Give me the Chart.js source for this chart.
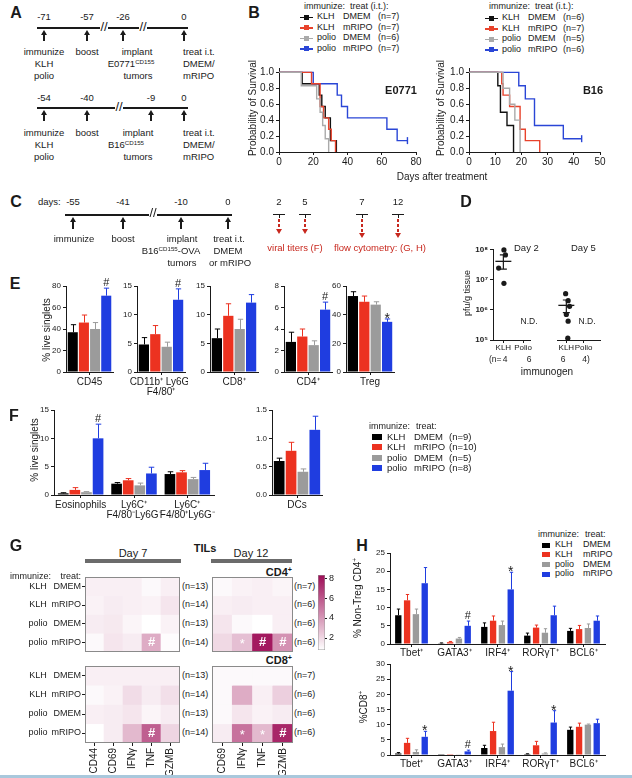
<!DOCTYPE html>
<html>
<head>
<meta charset="utf-8">
<title>Figure</title>
<script src="https://cdn.jsdelivr.net/npm/chart.js@4.4.1/dist/chart.umd.min.js"></script>
<style>
  html, body { margin: 0; padding: 0; background: #fff; }
  body { width: 632px; height: 778px; position: relative; overflow: hidden;
         font-family: "Liberation Sans", Arial, Helvetica, sans-serif; color: #1a1a1a; }
  .t { position: absolute; white-space: nowrap; font-size: 9.5px; line-height: 1.1; }
  .t sup { font-size: 65%; vertical-align: 0; position: relative; top: -0.55em; line-height: 0; }
  .ln { position: absolute; }
  canvas { position: absolute; }
</style>
</head>
<body>
<script>
// ---------- data ----------
const groupImmun = ['KLH', 'KLH', 'polio', 'polio'];
const groupTreat = ['DMEM', 'mRIPO', 'DMEM', 'mRIPO'];
const barColors = ['#000000', '#ec3220', '#9b9b9b', '#1f3de0'];
const survColors = ['#111111', '#e8432c', '#aaaaaa', '#2a46d6'];

// B: survival, days after treatment / fraction alive
const nE0771 = [7, 7, 6, 7];
const nB16 = [6, 7, 5, 6];
const e0771KlhDmemT = [0, 13.5, 23.5, 25, 27, 30, 33.5];
const e0771KlhDmemS = [1, 0.857, 0.714, 0.571, 0.429, 0.143, 0];
const e0771KlhMripoT = [0, 19, 24, 26, 29, 30.5, 33];
const e0771KlhMripoS = [1, 0.857, 0.571, 0.429, 0.286, 0.143, 0];
const e0771PolioDmemT = [0, 13, 22, 24, 25.5, 27, 29];
const e0771PolioDmemS = [1, 0.833, 0.667, 0.5, 0.333, 0.167, 0];
const e0771PolioMripoT = [0, 20, 34, 36.5, 40, 63, 69, 75];
const e0771PolioMripoS = [1, 0.857, 0.714, 0.571, 0.429, 0.286, 0.143, 0.143];
const b16KlhDmemT = [0, 11, 12, 14.5, 17];
const b16KlhDmemS = [1, 0.833, 0.5, 0.333, 0];
const b16KlhMripoT = [0, 12.5, 13, 15.5, 19.5, 21.5, 27];
const b16KlhMripoS = [1, 0.857, 0.714, 0.571, 0.286, 0.143, 0];
const b16PolioDmemT = [0, 13, 15.5, 17.5, 19.5];
const b16PolioDmemS = [1, 0.8, 0.6, 0.4, 0];
const b16PolioMripoT = [0, 19, 21.5, 25, 36, 43];
const b16PolioMripoS = [1, 0.833, 0.667, 0.333, 0.167, 0.167];
const survTicksE0771 = [0, 20, 40, 60, 80];
const survTicksB16 = [0, 10, 20, 30, 40, 50];
const survTicksY = [0, 0.2, 0.4, 0.6, 0.8, 1.0];

// D: viral titers (pfu/g tissue)
const titerCats = ['KLH', 'Polio'];
const titerN = [4, 6, 6, 4];
const titerDay2Klh = [9.5e7, 6.5e7, 2.4e7, 7.5e6];
const titerDay2KlhX = [0.58, 0.66, 0.30, 0.58];
const titerDay2Mean = 4.0e7;
const titerDay2Sem = [2.2e7, 6.5e7];
const titerDay5Klh = [3.4e6, 2.0e6, 1.3e6, 7.0e5, 4.2e5, 1.15e5];
const titerDay5KlhX = [0.46, 0.60, 0.68, 0.50, 0.60, 0.58];
const titerDay5Mean = 1.4e6;
const titerDay5Sem = [8e5, 2.1e6];
const titerTicks = [1e5, 1e6, 1e7, 1e8];

// E: % live singlets
const eCats = ['CD45', ['CD11b⁺ Ly6G⁻', 'F4/80⁺'], 'CD8⁺', 'CD4⁺', 'Treg'];
const eMax = [80, 15, 15, 8, 60];
const eTicks = [[0, 20, 40, 60, 80], [0, 5, 10, 15], [0, 5, 10, 15], [0, 2, 4, 6, 8], [0, 20, 40, 60]];
const eKlhDmem = [37, 4.8, 5.9, 2.8, 53];
const eKlhDmemErr = [7, 1.2, 1.6, 0.9, 3];
const eKlhMripo = [46, 6.6, 9.8, 3.3, 49];
const eKlhMripoErr = [7, 1.5, 2.1, 0.7, 4];
const ePolioDmem = [40, 4.4, 7.5, 2.5, 47];
const ePolioDmemErr = [6, 0.8, 1.7, 0.4, 2];
const ePolioMripo = [71, 12.6, 12.1, 5.8, 35];
const ePolioMripoErr = [7, 1.9, 1.4, 0.7, 2];
const eMarks = ['#', '#', '', '#', '*'];

// F: % live singlets
const nF = [9, 10, 5, 8];
const fCats = ['Eosinophils', ['Ly6C⁺', 'F4/80⁻Ly6G⁻'], ['Ly6C⁺', 'F4/80⁺Ly6G⁻']];
const fTicks = [0, 5, 10, 15];
const fKlhDmem = [0.3, 2.0, 3.7];
const fKlhDmemErr = [0.1, 0.2, 0.4];
const fKlhMripo = [0.9, 2.6, 4.0];
const fKlhMripoErr = [0.4, 0.3, 0.3];
const fPolioDmem = [0.5, 1.7, 2.8];
const fPolioDmemErr = [0.1, 0.4, 0.3];
const fPolioMripo = [10.0, 3.8, 4.4];
const fPolioMripoErr = [2.5, 1.1, 1.2];
const fMarks = ['#', '', ''];
const dcCats = ['DCs'];
const dcTicks = [0, 0.5, 1.0, 1.5];
const dcVals = [0.60, 0.78, 0.41, 1.15];
const dcErr = [0.05, 0.15, 0.05, 0.24];

// G: heatmaps (fold change)
const nDay7 = [13, 14, 13, 14];
const nDay12 = [7, 6, 6, 6];
const heatColsDay7 = ['CD44', 'CD69', 'IFNγ', 'TNF', 'GZMB'];
const heatColsDay12 = ['CD69', 'IFNγ', 'TNF', 'GZMB'];
const cd4Day7 = [
  [1.3, 1.3, 1.3, 1.0, 1.3],
  [1.2, 1.4, 1.3, 1.2, 1.6],
  [1.4, 1.5, 1.1, 0.8, 1.2],
  [1.0, 1.6, 1.4, 3.4, 0.9]];
const cd4Day12 = [
  [1.0, 1.2, 1.3, 1.1],
  [1.3, 1.4, 1.3, 1.3],
  [1.6, 1.0, 0.8, 1.3],
  [2.0, 2.8, 8.0, 4.2]];
const cd8Day7 = [
  [1.3, 1.3, 1.3, 1.3, 1.3],
  [1.0, 1.2, 1.9, 1.4, 1.8],
  [1.3, 1.4, 1.6, 1.1, 1.4],
  [0.8, 1.4, 3.0, 5.8, 2.1]];
const cd8Day12 = [
  [1.0, 1.0, 1.0, 1.0],
  [1.0, 3.4, 1.3, 2.3],
  [1.0, 1.6, 1.2, 1.4],
  [1.4, 5.2, 3.0, 7.6]];
const cd4Day7Marks = [[3, 3, '#']];
const cd4Day12Marks = [[3, 1, '*'], [3, 2, '#'], [3, 3, '#']];
const cd8Day7Marks = [[3, 3, '#']];
const cd8Day12Marks = [[3, 1, '*'], [3, 2, '*'], [3, 3, '#']];
const heatBarTicks = [2, 4, 6, 8];

// H: transcription factors
const hCats = ['Tbet⁺', 'GATA3⁺', 'IRF4⁺', 'RORγT⁺', 'BCL6⁺'];
const hCd4Ticks = [0, 5, 10, 15, 20, 25];
const hCd4KlhDmem = [7.9, 0.2, 4.7, 2.3, 3.6];
const hCd4KlhDmemErr = [1.7, 0.1, 1.1, 0.7, 0.7];
const hCd4KlhMripo = [12.0, 0.5, 6.4, 4.5, 4.1];
const hCd4KlhMripoErr = [1.6, 0.2, 1.3, 0.7, 1.0];
const hCd4PolioDmem = [8.2, 1.5, 5.2, 3.1, 4.4];
const hCd4PolioDmemErr = [1.4, 0.3, 1.1, 1.1, 1.1];
const hCd4PolioMripo = [16.7, 5.0, 15.0, 7.9, 6.4];
const hCd4PolioMripoErr = [4.3, 1.3, 4.7, 2.5, 1.3];
const hCd4Marks = ['', '#', '*', '', ''];
const hCd8Ticks = [0, 5, 10, 15, 20, 25, 30];
const hCd8KlhDmem = [0.5, 0.05, 2.3, 0.3, 8.3];
const hCd8KlhDmemErr = [0.3, 0, 0.9, 0.1, 0.9];
const hCd8KlhMripo = [4.0, 0.05, 7.9, 3.2, 9.3];
const hCd8KlhMripoErr = [1.5, 0, 2.9, 1.3, 1.2];
const hCd8PolioDmem = [1.0, 0.1, 2.6, 0.5, 10.0];
const hCd8PolioDmemErr = [0.7, 0, 1.0, 0.2, 0.2];
const hCd8PolioMripo = [6.0, 1.2, 21.2, 10.7, 10.5];
const hCd8PolioMripoErr = [1.8, 0.4, 6.3, 3.9, 1.3];
const hCd8Marks = ['*', '#', '*', '*', ''];

// ---------- helpers ----------
const INK = '#1a1a1a';
const RED = '#c8281e';
Chart.defaults.font.family = '"Liberation Sans", Arial, sans-serif';
Chart.defaults.color = INK;
Chart.defaults.animation = false;
Chart.defaults.plugins.legend.display = false;
Chart.defaults.plugins.tooltip.enabled = false;

function txt(x, y, html, o) {
  o = o || {};
  const d = document.createElement('div');
  d.className = 't';
  d.innerHTML = html;
  d.style.left = x + 'px';
  d.style.top = y + 'px';
  if (o.size) d.style.fontSize = o.size + 'px';
  if (o.bold) d.style.fontWeight = 'bold';
  if (o.color) d.style.color = o.color;
  const ax = o.align === 'left' ? '0' : o.align === 'right' ? '-100%' : '-50%';
  d.style.transform = 'translate(' + ax + ',-50%)' + (o.rot ? ' rotate(' + o.rot + 'deg)' : '');
  document.body.appendChild(d);
  return d;
}
function rect(x, y, w, h, color) {
  const d = document.createElement('div');
  d.className = 'ln';
  d.style.left = x + 'px'; d.style.top = y + 'px';
  d.style.width = w + 'px'; d.style.height = h + 'px';
  d.style.background = color;
  document.body.appendChild(d);
  return d;
}
function arrow(x, y0, y1, color, up, dashed) {
  const head = document.createElement('div');
  head.className = 'ln';
  head.style.left = (x - 3.5) + 'px';
  head.style.width = '0'; head.style.height = '0';
  head.style.borderLeft = '3.5px solid transparent';
  head.style.borderRight = '3.5px solid transparent';
  if (up) { head.style.top = y0 + 'px'; head.style.borderBottom = '5px solid ' + color; }
  else { head.style.top = (y1 - 5) + 'px'; head.style.borderTop = '5px solid ' + color; }
  document.body.appendChild(head);
  const stem = rect(x - 1, up ? y0 + 4 : y0, 2, y1 - y0 - 4, color);
  if (dashed) stem.style.background = 'repeating-linear-gradient(to bottom,' + color + ' 0 3px, transparent 3px 5px)';
}
function brk(x, y) {
  rect(x - 4, y - 1, 8, 3, '#fff');
  txt(x, y - 1, '//', { size: 13 });
}

// drop keys left undefined so Chart.js keeps its own defaults
function prune(o) {
  Object.keys(o).forEach(k => {
    if (o[k] === undefined) delete o[k];
    else if (o[k] && typeof o[k] === 'object' && !Array.isArray(o[k])) prune(o[k]);
  });
  return o;
}
function canvasFor(b) {
  const c = document.createElement('canvas');
  c.width = b.x1 - b.x0 + b.l + b.r;
  c.height = b.y1 - b.y0 + b.t + b.b;
  c.style.left = (b.x0 - b.l) + 'px';
  c.style.top = (b.y0 - b.t) + 'px';
  document.body.appendChild(c);
  return c.getContext('2d');
}
function xAxis(b, o) {
  o = o || {};
  return prune({
    type: o.type || 'category', min: o.min, max: o.max,
    afterFit: s => { s.height = b.b; s.paddingLeft = 0; s.paddingRight = 0; },
    afterBuildTicks: o.ticks ? (s => { s.ticks = o.ticks.map(v => ({ value: v })); }) : undefined,
    grid: { display: o.grid !== false, drawOnChartArea: false, tickLength: o.tickLength ?? 3, offset: false, color: INK },
    border: { display: o.border !== false, color: INK, width: 1 },
    ticks: { display: o.labels !== false, font: { size: o.size || 10, lineHeight: 1 }, padding: o.pad ?? 2,
      autoSkip: false, maxRotation: o.rot || 0, minRotation: o.rot || 0, callback: o.fmt, color: INK }
  });
}
function yAxis(b, o) {
  o = o || {};
  const ink = o.hidden ? 'rgba(0,0,0,0)' : INK;
  return prune({
    type: o.type || 'linear', min: o.min, max: o.max,
    afterFit: s => { s.width = b.l; s.paddingTop = 0; s.paddingBottom = 0; },
    afterBuildTicks: o.ticks ? (s => { s.ticks = o.ticks.map(v => ({ value: v })); }) : undefined,
    grid: { display: o.grid !== false, drawOnChartArea: false, tickLength: o.tickLength ?? 3, color: ink },
    border: { display: o.border !== false, color: ink, width: 1 },
    ticks: { display: o.labels !== false, font: { size: o.size || 8, weight: o.weight }, padding: o.pad ?? 2,
      callback: o.fmt, color: ink }
  });
}
function baseOptions(b, scales, extra) {
  return Object.assign({
    responsive: false, devicePixelRatio: 1,
    layout: { padding: { top: b.t, right: b.r, left: 0, bottom: 0 } },
    scales: scales
  }, extra || {});
}

// error bars, significance marks, whiskers, heat-cell marks, frame
const extras = {
  id: 'extras',
  afterDatasetsDraw(chart) {
    const ctx = chart.ctx, ys = chart.scales.y;
    chart.data.datasets.forEach((ds, i) => {
      const meta = chart.getDatasetMeta(i);
      if (ds.err) {
        meta.data.forEach((el, j) => {
          const v = ds.data[j], e = ds.err[j];
          const top = ys.getPixelForValue(v + e);
          const x = Math.round(el.x) + 0.5, half = el.width * 0.26;
          ctx.save();
          ctx.strokeStyle = ds.backgroundColor; ctx.lineWidth = 1;
          if (e > 0) {
            ctx.beginPath();
            ctx.moveTo(x, el.y); ctx.lineTo(x, top);
            ctx.moveTo(x - half, top); ctx.lineTo(x + half, top);
            ctx.stroke();
          }
          if (ds.marks && ds.marks[j]) {
            ctx.fillStyle = INK; ctx.textAlign = 'center';
            const star = ds.marks[j] === '*';
            ctx.font = (star ? 14 : 11) + 'px "Liberation Sans", Arial';
            ctx.textBaseline = 'alphabetic';
            ctx.fillText(ds.marks[j], el.x, top - (star ? -4 : 2));
          }
          ctx.restore();
        });
      }
      if (ds.whisker) {
        meta.data.forEach((el, j) => {
          const yl = ys.getPixelForValue(ds.whisker[j][0]), yh = ys.getPixelForValue(ds.whisker[j][1]);
          ctx.save(); ctx.strokeStyle = INK; ctx.lineWidth = 1.2;
          ctx.beginPath();
          ctx.moveTo(el.x, yl); ctx.lineTo(el.x, yh);
          ctx.moveTo(el.x - 3.5, yl); ctx.lineTo(el.x + 3.5, yl);
          ctx.moveTo(el.x - 3.5, yh); ctx.lineTo(el.x + 3.5, yh);
          ctx.stroke(); ctx.restore();
        });
      }
    });
    const hm = chart.options.plugins.extras;
    if (hm && hm.cellMarks) {
      hm.cellMarks.forEach(([r, c, s]) => {
        const el = chart.getDatasetMeta(r).data[c];
        ctx.save(); ctx.fillStyle = '#fff'; ctx.textAlign = 'center'; ctx.textBaseline = 'middle';
        ctx.font = (s === '*' ? '13px' : 'bold 13px') + ' "Liberation Sans", Arial';
        ctx.fillText(s, el.x, (el.y + el.base) / 2 + (s === '*' ? 2 : 0));
        ctx.restore();
      });
    }
    if (hm && hm.frame) {
      const a = chart.chartArea;
      ctx.save(); ctx.strokeStyle = hm.frame; ctx.lineWidth = 1;
      ctx.strokeRect(a.left + 0.5, a.top + 0.5, a.right - a.left - 1, a.bottom - a.top - 1);
      ctx.restore();
    }
  }
};
Chart.register(extras);

function barChart(b, cats, series, errs, marks, yMax, ticks, o) {
  new Chart(canvasFor(b), {
    type: 'bar',
    data: {
      labels: cats,
      datasets: series.map((s, i) => ({
        label: groupImmun[i] + ' ' + groupTreat[i], data: s, err: errs[i], marks: i === 3 ? marks : null,
        backgroundColor: barColors[i], borderWidth: 0,
        categoryPercentage: o.cat, barPercentage: o.bar
      }))
    },
    options: baseOptions(b, {
      x: xAxis(b, { size: 10, pad: o.pad ?? 2 }),
      y: yAxis(b, { min: 0, max: yMax, ticks: ticks, fmt: o.fmt })
    })
  });
}

function survivalChart(b, curves, xMax, xTicks) {
  new Chart(canvasFor(b), {
    type: 'line',
    data: {
      datasets: curves.map(cv => ({
        data: cv.t.map((t, i) => ({ x: t, y: cv.s[i] })),
        borderColor: cv.color, borderWidth: 1.4, stepped: true, fill: false, tension: 0,
        pointRadius: cv.t.map((_, i) => (cv.cens && i === cv.t.length - 1) ? 3.5 : 0),
        pointStyle: 'line', rotation: 90, pointBorderColor: cv.color, pointBorderWidth: 1.4,
        clip: false
      }))
    },
    options: baseOptions(b, {
      x: xAxis(b, { type: 'linear', min: 0, max: xMax, ticks: xTicks, size: 10 }),
      y: yAxis(b, { min: 0, max: 1.05, ticks: survTicksY, size: 10, fmt: v => v.toFixed(1) })
    })
  });
}

const supDigits = { 5: '⁵', 6: '⁶', 7: '⁷', 8: '⁸' };
function titerChart(b, xMax, catX, pts, ptsX, mean, sem, showY) {
  new Chart(canvasFor(b), {
    type: 'scatter',
    data: {
      datasets: [
        { data: pts.map((v, i) => ({ x: ptsX[i], y: v })), pointRadius: 2.6,
          pointBackgroundColor: INK, pointBorderWidth: 0, clip: false },
        { data: [{ x: catX[0], y: mean }], pointStyle: 'line', pointRadius: 8, pointBorderWidth: 1.3,
          pointBorderColor: INK, whisker: [sem], clip: false }
      ]
    },
    options: baseOptions(b, {
      x: xAxis(b, { type: 'linear', min: 0, max: xMax, ticks: catX, size: 8, pad: 1,
        fmt: (v, i) => titerCats[i] }),
      y: yAxis(b, { type: 'logarithmic', min: 1e5, max: 1e8, ticks: titerTicks, size: 8, weight: 'bold',
        hidden: !showY, fmt: v => showY ? '10' + supDigits[Math.round(Math.log10(v))] : '' })
    })
  });
}

const heatLo = 0.8, heatHi = 8.4;
function heatColor(v) {
  const t = Math.max(0, Math.min(1, (v - heatLo) / (heatHi - heatLo)));
  const r = Math.round(255 + (158 - 255) * t);
  const g = Math.round(255 + (12 - 255) * t);
  const bl = Math.round(255 + (86 - 255) * t);
  return 'rgb(' + r + ',' + g + ',' + bl + ')';
}
function heatChart(b, cols, vals, marks, showX, showYTicks) {
  new Chart(canvasFor(b), {
    type: 'bar',
    data: {
      labels: cols,
      datasets: vals.map((row, i) => ({
        data: cols.map(() => [vals.length - 1 - i, vals.length - i]),
        backgroundColor: row.map(heatColor), borderWidth: 0, grouped: false,
        barPercentage: 1, categoryPercentage: 1
      }))
    },
    options: baseOptions(b, {
      x: xAxis(b, { border: false, labels: showX, tickLength: showX ? 3 : 0, grid: showX,
        size: 10, rot: 90, pad: 2 }),
      y: yAxis(b, { min: 0, max: vals.length, ticks: [0.5, 1.5, 2.5, 3.5], labels: false,
        border: false, grid: showYTicks })
    }, { plugins: { extras: { cellMarks: marks, frame: '#8a8a8a' } } })
  });
}

// ---------- panel A ----------
txt(16, 13, 'A', { size: 16, bold: true });
rect(37, 27, 151, 1.5, INK);
[[44, '-71'], [87, '-57'], [123, '-26'], [184, '0']].forEach(([x, s]) => { txt(x, 17, s); arrow(x, 30, 41, INK, true); });
brk(104, 28); brk(143, 28);
txt(44, 52, 'immunize'); txt(44, 64, 'KLH'); txt(44, 76, 'polio');
txt(87, 52, 'boost');
txt(137, 52, 'implant'); txt(131, 64, 'E0771<sup>CD155</sup>'); txt(138, 76, 'tumors');
txt(183, 52, 'treat i.t.', { align: 'left' }); txt(183, 64, 'DMEM/', { align: 'left' }); txt(183, 76, 'mRIPO', { align: 'left' });

rect(37, 107, 151, 1.5, INK);
[[44, '-54'], [87, '-40'], [151, '-9'], [184, '0']].forEach(([x, s]) => { txt(x, 98, s); arrow(x, 110, 121, INK, true); });
brk(119, 108);
txt(44, 133, 'immunize'); txt(44, 145, 'KLH'); txt(44, 157, 'polio');
txt(87, 133, 'boost');
txt(138, 133, 'implant'); txt(126, 145, 'B16<sup>CD155</sup>'); txt(138, 157, 'tumors');
txt(183, 133, 'treat i.t.', { align: 'left' }); txt(183, 145, 'DMEM/', { align: 'left' }); txt(183, 157, 'mRIPO', { align: 'left' });

// ---------- panel B ----------
txt(254, 13, 'B', { size: 16, bold: true });
function survLegend(x, y0, nList) {
  txt(x, 7, 'immunize:', { align: 'left', size: 9 });
  txt(x + 46, 7, 'treat (i.t.):', { align: 'left', size: 9 });
  for (let i = 0; i < 4; i++) {
    const y = y0 + i * 10.5;
    rect(x - 4, y - 0.5, 13, 1.5, survColors[i]);
    rect(x, y - 2.5, 5, 5, survColors[i]);
    txt(x + 13, y, groupImmun[i], { align: 'left', size: 9 });
    txt(x + 39, y, groupTreat[i], { align: 'left', size: 9 });
    txt(x + 74, y, '(n=' + nList[i] + ')', { align: 'left', size: 9 });
  }
}
survLegend(304, 17, nE0771);
survLegend(489, 18, nB16);

survivalChart({ x0: 279, x1: 416, y0: 66, y1: 152, l: 24, t: 3, r: 8, b: 16 }, [
  { t: e0771PolioDmemT, s: e0771PolioDmemS, color: survColors[2] },
  { t: e0771KlhMripoT, s: e0771KlhMripoS, color: survColors[1] },
  { t: e0771PolioMripoT, s: e0771PolioMripoS, color: survColors[3], cens: true },
  { t: e0771KlhDmemT, s: e0771KlhDmemS, color: survColors[0] }
], 80, survTicksE0771);
survivalChart({ x0: 469, x1: 600, y0: 66, y1: 152, l: 24, t: 3, r: 8, b: 16 }, [
  { t: b16PolioDmemT, s: b16PolioDmemS, color: survColors[2] },
  { t: b16KlhMripoT, s: b16KlhMripoS, color: survColors[1] },
  { t: b16PolioMripoT, s: b16PolioMripoS, color: survColors[3], cens: true },
  { t: b16KlhDmemT, s: b16KlhDmemS, color: survColors[0] }
], 50, survTicksB16);
txt(252, 108, 'Probability of Survival', { rot: -90, size: 10 });
txt(440, 108, 'Probability of Survival', { rot: -90, size: 10 });
txt(401, 90, 'E0771', { bold: true, size: 11 });
txt(593, 90, 'B16', { bold: true, size: 11 });
txt(442, 176, 'Days after treatment', { size: 10 });

// ---------- panel C ----------
txt(16, 202, 'C', { size: 16, bold: true });
txt(38, 202, 'days:', { align: 'left' });
rect(65, 214, 167, 1.5, INK);
[[73, '-55'], [123, '-41'], [181, '-10'], [228, '0']].forEach(([x, s]) => { txt(x, 202, s); arrow(x, 217, 229, INK, true); });
brk(153, 214);
txt(74, 239, 'immunize'); txt(123, 239, 'boost'); txt(182, 239, 'implant'); txt(229, 239, 'treat i.t.');
txt(171, 251, 'B16<sup>CD155</sup>-OVA'); txt(228, 251, 'DMEM');
txt(182, 263, 'tumors'); txt(230, 263, 'or mRIPO');
[[279, '2'], [305, '5'], [362, '7'], [398, '12']].forEach(([x, s], k) => {
  txt(x, 202, s);
  rect(x - 6, 214, 12, 1.2, INK);
  rect(x - 0.5, 214, 1, 4, INK);
  arrow(x, 219, k < 2 ? 234 : 238, RED, false, true);
});
txt(295, 248, 'viral titers (F)', { color: RED });
txt(380, 248, 'flow cytometry: (G, H)', { color: RED });

// ---------- panel D ----------
txt(466, 202, 'D', { size: 16, bold: true });
titerChart({ x0: 493, x1: 538, y0: 246, y1: 340, l: 26, t: 6, r: 2, b: 14 }, 2.0, [0.55, 1.6],
  titerDay2Klh, titerDay2KlhX, titerDay2Mean, titerDay2Sem, true);
titerChart({ x0: 552, x1: 606, y0: 246, y1: 340, l: 4, t: 6, r: 4, b: 14 }, 2.4, [0.5, 1.45],
  titerDay5Klh, titerDay5KlhX, titerDay5Mean, titerDay5Sem, false);
txt(514, 248, 'Day 2', { align: 'left', size: 9.5 });
txt(571, 248, 'Day 5', { align: 'left', size: 9.5 });
txt(529, 322, 'N.D.', { size: 8.5 });
txt(587, 322, 'N.D.', { size: 8.5 });
txt(468, 293, 'pfu/g tissue', { rot: -90, size: 9 });
txt(489, 360, '(n=', { align: 'left', size: 8.5 });
txt(505, 360, String(titerN[0]), { size: 8.5 });
txt(529, 360, String(titerN[1]), { size: 8.5 });
txt(563, 360, String(titerN[2]), { size: 8.5 });
txt(586, 360, titerN[3] + ')', { size: 8.5 });
txt(547, 371, 'immunogen', { size: 10 });

// ---------- panel E ----------
txt(15, 284, 'E', { size: 16, bold: true });
const eX = [[66, 113], [137, 185], [210, 258], [284, 332], [346, 394]];
const eSeries = [eKlhDmem, eKlhMripo, ePolioDmem, ePolioMripo];
const eErrs = [eKlhDmemErr, eKlhMripoErr, ePolioDmemErr, ePolioMripoErr];
eX.forEach(([x0, x1], k) => {
  barChart({ x0: x0, x1: x1, y0: 286, y1: 372, l: 18, t: 14, r: 3, b: 28 }, [eCats[k]],
    eSeries.map(s => [s[k]]), eErrs.map(e => [e[k]]), [eMarks[k]], eMax[k], eTicks[k],
    { cat: 0.95, bar: 0.9 });
});
txt(46, 330, '% live singlets', { rot: -90, size: 10 });

// ---------- panel F ----------
txt(14, 416, 'F', { size: 16, bold: true });
barChart({ x0: 54, x1: 214, y0: 410, y1: 495, l: 18, t: 14, r: 3, b: 28 }, fCats,
  [fKlhDmem, fKlhMripo, fPolioDmem, fPolioMripo], [fKlhDmemErr, fKlhMripoErr, fPolioDmemErr, fPolioMripoErr],
  fMarks, 15, fTicks, { cat: 0.87, bar: 0.92 });
barChart({ x0: 272, x1: 322, y0: 410, y1: 495, l: 20, t: 14, r: 3, b: 28 }, dcCats,
  dcVals.map(v => [v]), dcErr.map(e => [e]), [''], 1.5, dcTicks,
  { cat: 0.95, bar: 0.9, fmt: v => v.toFixed(1) });
txt(34, 450, '% live singlets', { rot: -90, size: 10 });
txt(369, 427, 'immunize:', { align: 'left', size: 9 });
txt(416, 427, 'treat:', { align: 'left', size: 9 });
for (let i = 0; i < 4; i++) {
  const y = 437 + i * 10.4;
  rect(372, y - 3, 10, 6, barColors[i]);
  txt(387, y, groupImmun[i], { align: 'left', size: 9.5 });
  txt(414, y, groupTreat[i], { align: 'left', size: 9.5 });
  txt(449, y, '(n=' + nF[i] + ')', { align: 'left', size: 9.5 });
}

// ---------- panel G ----------
txt(16, 546, 'G', { size: 16, bold: true });
txt(133, 553, 'Day 7', { size: 11 });
rect(85, 559, 96, 3.5, '#6b6b6b');
txt(251, 553, 'Day 12', { size: 11 });
rect(211, 559, 81, 3.5, '#6b6b6b');
txt(205, 548, 'TILs', { bold: true, size: 11 });
txt(292, 572, 'CD4<sup>+</sup>', { bold: true, size: 11, align: 'right' });
txt(292, 660, 'CD8<sup>+</sup>', { bold: true, size: 11, align: 'right' });
txt(10, 577, 'immunize:', { align: 'left', size: 9 });
txt(81, 577, 'treat:', { align: 'right', size: 9 });
const heatRowY = [[587, 605, 624, 643], [676, 695, 714, 733]];
heatRowY.forEach(rows => rows.forEach((y, i) => {
  txt(38, y, groupImmun[i], { size: 9 });
  txt(81, y, groupTreat[i], { align: 'right', size: 9 });
  txt(182, y, '(n=' + nDay7[i] + ')', { align: 'left', size: 9 });
  txt(294, y, '(n=' + nDay12[i] + ')', { align: 'left', size: 9 });
}));
heatChart({ x0: 85, x1: 180, y0: 577, y1: 652, l: 4, t: 2, r: 2, b: 2 }, heatColsDay7, cd4Day7, cd4Day7Marks, false, true);
heatChart({ x0: 212, x1: 293, y0: 577, y1: 652, l: 2, t: 2, r: 2, b: 2 }, heatColsDay12, cd4Day12, cd4Day12Marks, false, false);
heatChart({ x0: 85, x1: 180, y0: 666, y1: 743, l: 4, t: 2, r: 2, b: 34 }, heatColsDay7, cd8Day7, cd8Day7Marks, true, true);
heatChart({ x0: 212, x1: 293, y0: 666, y1: 743, l: 2, t: 2, r: 2, b: 34 }, heatColsDay12, cd8Day12, cd8Day12Marks, true, false);
// colour bar
(function () {
  const top = 575, bot = 650, stops = [];
  for (let k = 0; k <= 10; k++) {
    const v = heatHi - (heatHi - heatLo) * k / 10;
    stops.push(heatColor(v) + ' ' + (k * 10) + '%');
  }
  const cb = rect(318, top, 7, bot - top, 'linear-gradient(to bottom,' + stops.join(',') + ')');
  cb.style.boxShadow = 'inset 0 0 0 0.5px #999';
  heatBarTicks.forEach(v => {
    const y = bot - (v - heatLo) / (heatHi - heatLo) * (bot - top);
    rect(325, y - 0.5, 2, 1, INK);
    txt(329, y, String(v), { align: 'left', size: 9 });
  });
})();

// ---------- panel H ----------
txt(362, 546, 'H', { size: 16, bold: true });
txt(538, 535, 'immunize:', { align: 'left', size: 9 });
txt(585, 535, 'treat:', { align: 'left', size: 9 });
for (let i = 0; i < 4; i++) {
  const y = 545 + i * 9.8;
  rect(542, y - 2.5, 8, 5, barColors[i]);
  txt(555, y, groupImmun[i], { align: 'left', size: 9 });
  txt(583, y, groupTreat[i], { align: 'left', size: 9 });
}
barChart({ x0: 390, x1: 605, y0: 553, y1: 644, l: 18, t: 14, r: 4, b: 14 }, hCats,
  [hCd4KlhDmem, hCd4KlhMripo, hCd4PolioDmem, hCd4PolioMripo],
  [hCd4KlhDmemErr, hCd4KlhMripoErr, hCd4PolioDmemErr, hCd4PolioMripoErr],
  hCd4Marks, 25, hCd4Ticks, { cat: 0.82, bar: 0.72, pad: 1 });
barChart({ x0: 390, x1: 605, y0: 664, y1: 755, l: 18, t: 14, r: 4, b: 16 }, hCats,
  [hCd8KlhDmem, hCd8KlhMripo, hCd8PolioDmem, hCd8PolioMripo],
  [hCd8KlhDmemErr, hCd8KlhMripoErr, hCd8PolioDmemErr, hCd8PolioMripoErr],
  hCd8Marks, 30, hCd8Ticks, { cat: 0.82, bar: 0.72, pad: 1 });
txt(357, 598, '% Non-Treg CD4<sup>+</sup>', { rot: -90, size: 10 });
txt(363, 707, '%CD8<sup>+</sup>', { rot: -90, size: 10 });

// bottom frame strip
rect(0, 775, 632, 3, '#a9c8dc');
</script>
</body>
</html>
